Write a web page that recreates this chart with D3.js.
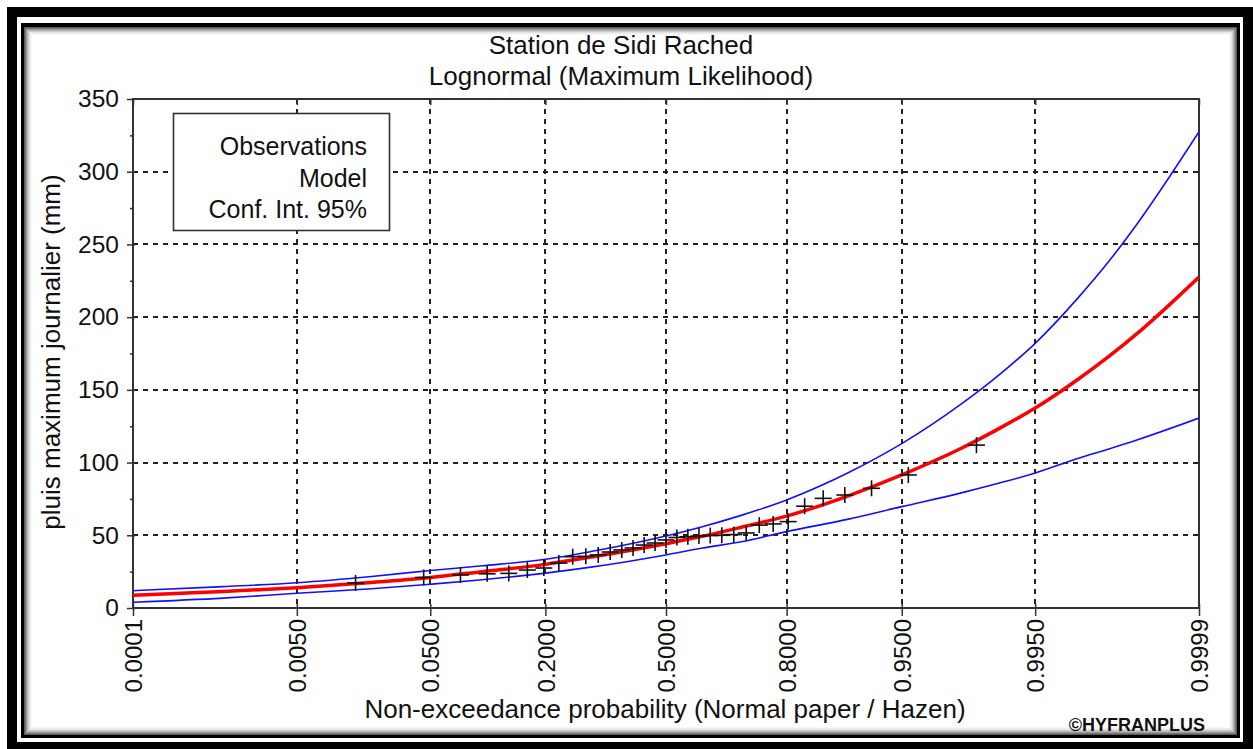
<!DOCTYPE html>
<html><head><meta charset="utf-8">
<script src="https://cdn.jsdelivr.net/npm/d3@7"></script>
<style>
body{margin:0;background:#fff;}
svg text{font-family:"Liberation Sans",Arial,sans-serif;fill:#111;}
</style>
</head><body>
<svg id="chart" width="1253" height="749"></svg>
<script>
// ---------- data ----------
const titleLines = ["Station de Sidi Rached", "Lognormal (Maximum Likelihood)"];
const xAxisTitle = "Non-exceedance probability (Normal paper / Hazen)";
const yAxisTitle = "pluis maximum journalier (mm)";
const creditText = "\u00A9HYFRANPLUS";
const legendLabels = ["Observations", "Model", "Conf. Int. 95%"];

const xTickProbs  = [0.0001, 0.005, 0.05, 0.2, 0.5, 0.8, 0.95, 0.995, 0.9999];
const xTickLabels = ["0.0001","0.0050","0.0500","0.2000","0.5000","0.8000","0.9500","0.9950","0.9999"];
const yTicks      = [0, 50, 100, 150, 200, 250, 300, 350];
const yMinorTicks = [25, 75, 125, 175, 225, 275, 325];

const curveProbs  = [0.0001, 0.001, 0.005, 0.02, 0.05, 0.1, 0.2, 0.3, 0.4, 0.5, 0.6, 0.7, 0.8, 0.9, 0.95, 0.98, 0.99, 0.995, 0.998, 0.999, 0.9995, 0.9999];
const modelValues = [8.8, 11.3, 14.0, 17.6, 21.0, 25.0, 30.0, 35.0, 39.5, 44.2, 49.3, 55.5, 63.2, 77.5, 91.5, 109.5, 123.5, 137.5, 157.5, 173.0, 189.0, 227.6];
const upperValues = [11.9, 14.7, 17.4, 21.7, 25.8, 29.0, 33.5, 38.8, 44.0, 49.5, 55.9, 63.7, 74.3, 93.5, 113.0, 139.8, 160.5, 182.0, 213.6, 238.4, 264.6, 327.5];
const lowerValues = [4.0, 6.8, 10.1, 13.2, 16.3, 19.4, 24.0, 28.1, 32.2, 36.5, 41.2, 45.5, 52.5, 61.3, 69.7, 79.0, 85.9, 92.8, 103.0, 109.4, 115.7, 130.6];

const obsProbs  = [0.01515, 0.04545, 0.07576, 0.10606, 0.13636, 0.16667, 0.19697, 0.22727, 0.25758, 0.28788, 0.31818,
                   0.34848, 0.37879, 0.40909, 0.43939, 0.46970, 0.50000, 0.53030, 0.56061, 0.59091, 0.62121, 0.65152,
                   0.68182, 0.71212, 0.74242, 0.77273, 0.80303, 0.83333, 0.86364, 0.89394, 0.92424, 0.95455, 0.98485];
const obsValues = [17.2, 21.0, 22.7, 23.5, 23.8, 26.1, 27.5, 30.9, 35.3, 35.5, 36.5,
                   38.5, 39.9, 41.3, 43.3, 44.7, 46.8, 48.5, 49.0, 49.5, 49.8, 50.0,
                   50.5, 51.6, 57.0, 57.8, 59.4, 70.0, 75.4, 77.7, 82.3, 91.5, 112.0];

// ---------- normal-paper transform (inverse normal CDF, Acklam) ----------
function probit(p){
  const a=[-3.969683028665376e+01,2.209460984245205e+02,-2.759285104469687e+02,1.383577518672690e+02,-3.066479806614716e+01,2.506628277459239e+00];
  const b=[-5.447609879822406e+01,1.615858368580409e+02,-1.556989798598866e+02,6.680131188771972e+01,-1.328068155288572e+01];
  const c=[-7.784894002430293e-03,-3.223964580411365e-01,-2.400758277161838e+00,-2.549732539343734e+00,4.374664141464968e+00,2.938163982698783e+00];
  const d=[7.784695709041462e-03,3.224671290700398e-01,2.445134137142996e+00,3.754408661907416e+00];
  const pl=0.02425, ph=1-pl; let q,r;
  if(p<pl){q=Math.sqrt(-2*Math.log(p));return (((((c[0]*q+c[1])*q+c[2])*q+c[3])*q+c[4])*q+c[5])/((((d[0]*q+d[1])*q+d[2])*q+d[3])*q+1);}
  if(p<=ph){q=p-0.5;r=q*q;return (((((a[0]*r+a[1])*r+a[2])*r+a[3])*r+a[4])*r+a[5])*q/(((((b[0]*r+b[1])*r+b[2])*r+b[3])*r+b[4])*r+1);}
  q=Math.sqrt(-2*Math.log(1-p));return -(((((c[0]*q+c[1])*q+c[2])*q+c[3])*q+c[4])*q+c[5])/((((d[0]*q+d[1])*q+d[2])*q+d[3])*q+1);
}

// ---------- layout ----------
const svg = d3.select("#chart");
const L = 133, R = 1199, T = 99, B = 608;
const FS = 24, FT = 26;

// frame
svg.append("rect").attr("x",7).attr("y",7).attr("width",1246).attr("height",742).attr("fill","#000");
svg.append("rect").attr("x",17).attr("y",17).attr("width",1226).attr("height",725).attr("fill","#fff");
svg.append("rect").attr("x",21).attr("y",23).attr("width",1219).attr("height",715).attr("fill","#000");
svg.append("rect").attr("x",24).attr("y",27).attr("width",1213).attr("height",708).attr("fill","#fff");
const shade = [ "#5a5a5a","#7a7a7a","#999","#b5b5b5","#cecece","#e2e2e2","#f0f0f0","#f8f8f8"];
shade.forEach((col,k)=>{
  svg.append("rect").attr("x",24+k+0.5).attr("y",27+k+0.5)
    .attr("width",1213-2*k-1).attr("height",708-2*k-1)
    .attr("fill","none").attr("stroke",col).attr("stroke-width",1);
});

// scales
const x = d3.scaleLinear().domain([probit(xTickProbs[0]), probit(xTickProbs[xTickProbs.length-1])]).range([L, R]);
const y = d3.scaleLinear().domain([0, 350]).range([B, T]);

// grid
const grid = svg.append("g").attr("stroke","#222").attr("stroke-width",2).attr("stroke-dasharray","5,5");
grid.selectAll(".gv").data(xTickProbs.slice(1,-1)).join("line")
  .attr("x1",d=>Math.round(x(probit(d)))).attr("x2",d=>Math.round(x(probit(d))))
  .attr("y1",T).attr("y2",B);
grid.selectAll(".gh").data(yTicks.slice(1,-1)).join("line")
  .attr("y1",d=>Math.round(y(d))).attr("y2",d=>Math.round(y(d)))
  .attr("x1",L).attr("x2",R);

// axes
const yAx = svg.append("g").attr("transform",`translate(${L},0)`)
  .call(d3.axisLeft(y).tickValues(yTicks).tickSizeInner(6).tickSizeOuter(0).tickPadding(8));
yAx.select(".domain").remove();
yAx.selectAll(".tick line").attr("x1",2).attr("stroke","#333").attr("stroke-width",1.5);
yAx.selectAll(".tick text").attr("font-size",FS+0.5).attr("fill","#111").style("font-family",'"Liberation Sans",Arial,sans-serif');

const yMin = svg.append("g").attr("transform",`translate(${L},0)`)
  .call(d3.axisLeft(y).tickValues(yMinorTicks).tickSize(3).tickFormat(""));
yMin.select(".domain").remove();
yMin.selectAll(".tick line").attr("x1",1).attr("stroke","#333").attr("stroke-width",1.5);

const xAx = svg.append("g").attr("transform",`translate(0,${B})`)
  .call(d3.axisBottom(x).tickValues(xTickProbs.map(probit)).tickFormat((d,i)=>xTickLabels[i]).tickSizeInner(8).tickSizeOuter(0));
xAx.select(".domain").remove();
xAx.selectAll(".tick line").attr("y1",-4).attr("stroke","#333").attr("stroke-width",1.5);
xAx.selectAll(".tick text").attr("font-size",FS).attr("fill","#111")
  .style("font-family",'"Liberation Sans",Arial,sans-serif')
  .attr("transform","rotate(-90)").attr("text-anchor","end")
  .attr("x",-11).attr("y",0).attr("dy","0.36em");

const xTop = svg.append("g").attr("transform",`translate(0,${T})`)
  .call(d3.axisTop(x).tickValues(xTickProbs.map(probit)).tickFormat("").tickSizeInner(-6).tickSizeOuter(0));
xTop.select(".domain").remove();
xTop.selectAll(".tick line").attr("stroke","#333").attr("stroke-width",1.5);

// plot border
svg.append("rect").attr("x",L).attr("y",T).attr("width",R-L).attr("height",B-T)
  .attr("fill","none").attr("stroke","#333").attr("stroke-width",2);

// clip
svg.append("clipPath").attr("id","plotclip").append("rect")
  .attr("x",L).attr("y",T).attr("width",R-L).attr("height",B-T);
const plot = svg.append("g").attr("clip-path","url(#plotclip)");

const line = d3.line().x(d=>x(probit(d[0]))).y(d=>y(d[1])).curve(d3.curveMonotoneX);
const mk = vals => curveProbs.map((p,i)=>[p, vals[i]]);

plot.append("path").datum(mk(upperValues)).attr("d",line)
  .attr("fill","none").attr("stroke","#1010ff").attr("stroke-width",1.6);
plot.append("path").datum(mk(lowerValues)).attr("d",line)
  .attr("fill","none").attr("stroke","#1010ff").attr("stroke-width",1.6);
plot.append("path").datum(mk(modelValues)).attr("d",line)
  .attr("fill","none").attr("stroke","#ff0000").attr("stroke-width",3.5);

// observations (+ markers)
const obs = plot.append("g").attr("stroke","#111").attr("stroke-width",1.6);
obsProbs.forEach((p,i)=>{
  const cx = x(probit(p)), cy = y(obsValues[i]);
  obs.append("line").attr("x1",cx-8.5).attr("x2",cx+8.5).attr("y1",cy).attr("y2",cy);
  obs.append("line").attr("x1",cx).attr("x2",cx).attr("y1",cy-8).attr("y2",cy+8);
});

// legend
svg.append("rect").attr("x",173.5).attr("y",113.5).attr("width",216).attr("height",117)
  .attr("fill","#fff").attr("stroke","#333").attr("stroke-width",1.6);
svg.selectAll(".leg").data(legendLabels).join("text")
  .attr("x",367).attr("y",(d,i)=>155+i*31.5).attr("text-anchor","end")
  .attr("font-size",25).text(d=>d);

// titles
svg.selectAll(".ttl").data(titleLines).join("text")
  .attr("x",621).attr("y",(d,i)=>54+i*31).attr("text-anchor","middle")
  .attr("font-size",FT).text(d=>d);

svg.append("text").attr("x",665).attr("y",718).attr("text-anchor","middle")
  .attr("font-size",FT).text(xAxisTitle);

svg.append("text").attr("transform","translate(60,352) rotate(-90)").attr("text-anchor","middle")
  .attr("font-size",FT).text(yAxisTitle);

svg.append("text").attr("x",1205).attr("y",731).attr("text-anchor","end")
  .attr("font-size",18).attr("font-weight","bold").text(creditText);
</script>
</body></html>
